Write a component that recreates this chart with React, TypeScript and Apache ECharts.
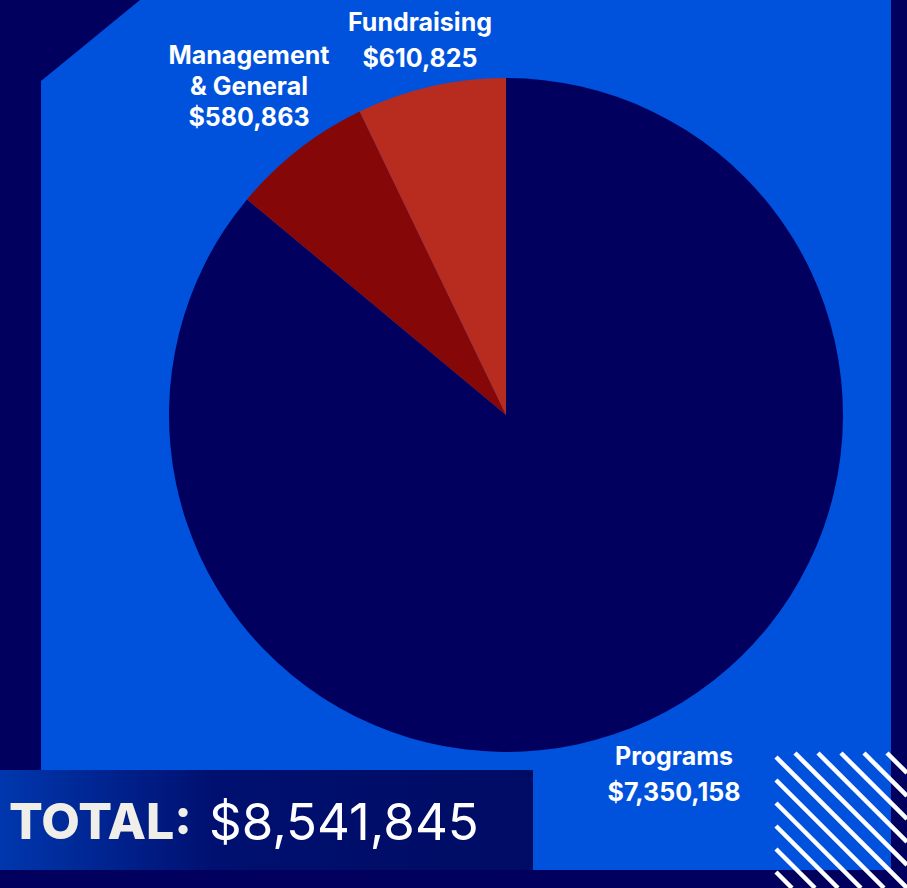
import React, { useEffect, useRef } from "react";
import * as echarts from "echarts";

const categories = ["Programs", "Management & General", "Fundraising"];
const values = [7350158, 580863, 610825];
const sliceColors = ["#01005E", "#860707", "#B82B1F"];
const totalLabel = "TOTAL:";
const totalValue = 8541845;

const fmt = (v: number) => "$" + v.toLocaleString("en-US");

export default function App() {
  const ref = useRef<HTMLDivElement>(null);
  useEffect(() => {
    if (!ref.current) return;
    const chart = echarts.init(ref.current, null, { renderer: "svg" });

    // decorative stripes (bottom-right square)
    const sx0 = 776, sy0 = 753, sx1 = 907, sy1 = 888;
    const stripes: any[] = [];
    for (let c = 19 - 23 * 6; c < 160; c += 23) {
      const xa = Math.max(sx0, sy0 + c);
      const ya = xa - c;
      const xb = Math.min(sx1, sy1 + c);
      const yb = xb - c;
      if (xb <= xa) continue;
      stripes.push({
        type: "line",
        z: 1,
        shape: { x1: xa, y1: ya, x2: xb, y2: yb },
        style: { stroke: "#FFFFFF", lineWidth: 4.5 },
        silent: true,
      });
    }

    const labelPos: Record<number, { x: number; y: number }> = {
      0: { x: 674, y: 738 },
      1: { x: 249, y: 39 },
      2: { x: 420, y: 4 },
    };

    chart.setOption({
      animation: false,
      backgroundColor: "#01005E",
      graphic: [
        {
          type: "polygon",
          z: 0,
          shape: {
            points: [
              [41, 81],
              [140, 0],
              [891, 0],
              [891, 870],
              [41, 870],
            ],
          },
          style: { fill: "#0052DD" },
          silent: true,
        },
        ...stripes,
        {
          type: "rect",
          z: 5,
          shape: { x: 0, y: 770, width: 533, height: 100 },
          style: {
            fill: new echarts.graphic.LinearGradient(0, 0, 1, 0, [
              { offset: 0, color: "#0037AE" },
              { offset: 0.4, color: "#001070" },
              { offset: 1, color: "#000C64" },
            ]),
          },
          silent: true,
        },
        {
          type: "text",
          z: 6,
          x: 9,
          y: 821,
          style: {
            text: totalLabel,
            verticalAlign: "middle",
            fontFamily: "Inter",
            fontWeight: 800,
            fontSize: 50,
            fill: "#F0EEE8",
          },
        },
        {
          type: "text",
          z: 6,
          x: 209,
          y: 821,
          style: {
            text: fmt(totalValue),
            verticalAlign: "middle",
            fontFamily: "Inter",
            fontWeight: 400,
            fontSize: 51,
            fill: "#FFFFFF",
          },
        },
      ],
      series: [
        {
          type: "pie",
          center: [506, 415],
          radius: 337,
          startAngle: 90,
          clockwise: true,
          z: 3,
          itemStyle: { borderWidth: 0 },
          label: {
            show: true,
            position: "outside",
            color: "#FFFFFF",
            fontFamily: "Inter",
            fontWeight: "bold",
            fontSize: 25,
            align: "center",
            formatter: (p: any) =>
              p.name.replace(" & ", "\n& ") + "\n" + fmt(p.value),
          },
          labelLine: { show: false },
          labelLayout: (p: any) => ({
            x: labelPos[p.dataIndex].x,
            y: labelPos[p.dataIndex].y,
            align: "center",
            verticalAlign: "top",
          }),
          emphasis: { disabled: true },
          data: categories.map((name, i) => ({
            name,
            value: values[i],
            itemStyle: { color: sliceColors[i] },
            label: { lineHeight: i === 1 ? 31 : 36 },
          })),
        },
      ],
    });
    return () => chart.dispose();
  }, []);
  return (
    <div
      ref={ref}
      style={{ position: "fixed", left: 0, top: 0, width: 907, height: 888 }}
    />
  );
}
